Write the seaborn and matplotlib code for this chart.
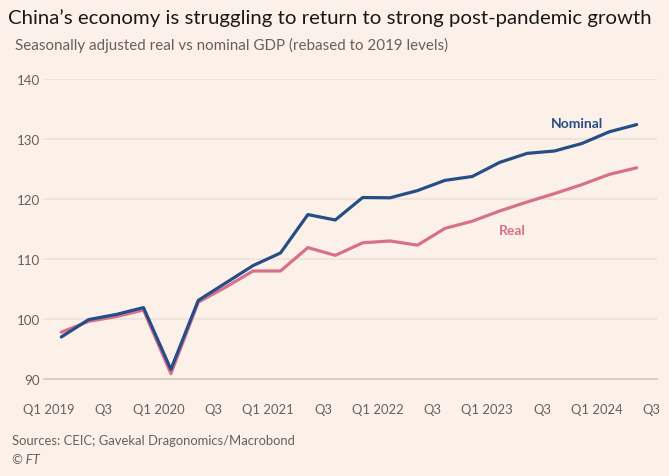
import numpy as np
import pandas as pd
import matplotlib
matplotlib.use("Agg")
import matplotlib.pyplot as plt
import seaborn as sns
from matplotlib.ticker import FixedLocator, FixedFormatter

# quarterly GDP, rebased to 2019 levels (Q1 2019 .. Q2 2024)
quarters = ["Q1 2019", "Q2 2019", "Q3 2019", "Q4 2019",
            "Q1 2020", "Q2 2020", "Q3 2020", "Q4 2020",
            "Q1 2021", "Q2 2021", "Q3 2021", "Q4 2021",
            "Q1 2022", "Q2 2022", "Q3 2022", "Q4 2022",
            "Q1 2023", "Q2 2023", "Q3 2023", "Q4 2023",
            "Q1 2024", "Q2 2024"]
nominal = [97.0, 99.9, 100.75, 101.9, 91.6, 103.1, 106.0, 108.9,
           111.0, 117.4, 116.5, 120.25, 120.2, 121.4, 123.1, 123.75,
           126.1, 127.6, 128.0, 129.25, 131.2, 132.4]
real = [97.8, 99.6, 100.4, 101.5, 90.9, 102.8, 105.3, 108.0,
        108.0, 111.9, 110.6, 112.7, 113.0, 112.3, 115.1, 116.3,
        118.0, 119.5, 120.9, 122.4, 124.1, 125.2]

q1_labels = ["Q1 2019", "Q1 2020", "Q1 2021", "Q1 2022", "Q1 2023", "Q1 2024"]
q3_labels = ["Q3"] * 6
y_ticks = [90, 100, 110, 120, 130, 140]

BG = "#fcf1e8"
BLUE = "#264e86"
PINK = "#d9708b"
GREY = "#66605c"

sns.set_theme(style="white")
plt.rcParams["font.family"] = ["Lato", "DejaVu Sans"]

# points sit mid-quarter, ticks mark the start of each quarter
pos = np.arange(len(quarters)) + 0.45
df = pd.DataFrame({
    "pos": np.concatenate([pos, pos]),
    "value": real + nominal,
    "series": ["Real"] * len(real) + ["Nominal"] * len(nominal),
})

fig = plt.figure(figsize=(6.69, 4.77), dpi=100, facecolor=BG)
ax = fig.add_axes([0.0658, 0.2034, 0.9158, 0.6289])
ax.set_facecolor(BG)

sns.lineplot(data=df, x="pos", y="value", hue="series",
             hue_order=["Real", "Nominal"], palette=[PINK, BLUE],
             linewidth=2.3, legend=False, ax=ax)

ax.set_xlim(-0.18, 22.18)
ax.set_ylim(90, 140)
ax.set_xlabel("")
ax.set_ylabel("")

ax.set_yticks(y_ticks)
ax.set_yticklabels([str(t) for t in y_ticks])
ax.yaxis.grid(True, color="#ebe1d7", linewidth=1.1)
ax.set_axisbelow(True)

ax.xaxis.set_major_locator(FixedLocator(np.arange(0, 22, 4)))
ax.xaxis.set_major_formatter(FixedFormatter(q1_labels))
ax.xaxis.set_minor_locator(FixedLocator(np.arange(2, 24, 4)))
ax.xaxis.set_minor_formatter(FixedFormatter(q3_labels))

ax.tick_params(axis="x", which="major", length=11.5, width=1.1,
               color="#d8cdc3", pad=6, labelsize=9.4, labelcolor=GREY)
ax.tick_params(axis="x", which="minor", length=5.8, width=1.1,
               color="#d8cdc3", pad=11.7, labelsize=9.4, labelcolor=GREY)
ax.tick_params(axis="y", length=0, pad=3, labelsize=9.6, labelcolor=GREY)

for s in ["top", "right", "left"]:
    ax.spines[s].set_visible(False)
ax.spines["bottom"].set_color("#d8cdc3")
ax.spines["bottom"].set_linewidth(1.3)

ax.text(19.27, 132.6, "Nominal", color=BLUE, fontsize=10,
        fontweight="bold", ha="center", va="center")
ax.text(16.9, 114.75, "Real", color=PINK, fontsize=10,
        fontweight="bold", ha="center", va="center")

fig.text(0.012, 0.962, "China\u2019s economy is struggling to return to strong post-pandemic growth",
         fontsize=14.7, color="#1a1817", ha="left", va="center")
fig.text(0.022, 0.905, "Seasonally adjusted real vs nominal GDP (rebased to 2019 levels)",
         fontsize=10.9, color=GREY, ha="left", va="center")
fig.text(0.018, 0.075, "Sources: CEIC; Gavekal Dragonomics/Macrobond",
         fontsize=9.4, color=GREY, ha="left", va="center")
fig.text(0.018, 0.035, "\u00a9 FT", fontsize=9.4, color=GREY, ha="left",
         va="center", style="italic")

fig.savefig("out.png", dpi=100, facecolor=BG)
